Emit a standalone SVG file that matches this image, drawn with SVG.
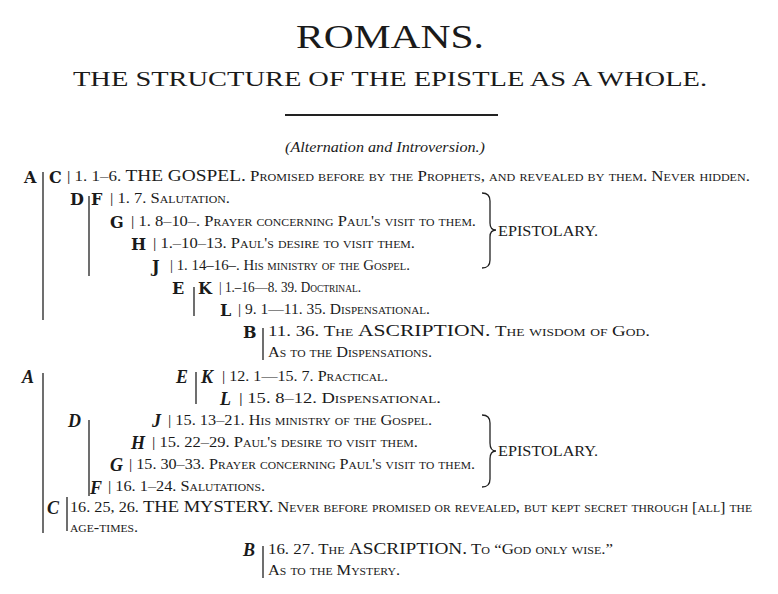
<svg xmlns="http://www.w3.org/2000/svg" width="778" height="594" viewBox="0 0 778 594">
<style>
text{font-family:"Liberation Serif","Times New Roman",serif;fill:#1a1a1a}
.t{font-size:14px;font-variant:small-caps}
.b{font-size:16px;font-weight:bold;font-family:"DejaVu Serif","Liberation Serif",serif}
.i{font-size:18px;font-style:italic;font-weight:bold}
.big{font-size:16px;font-variant:normal}
.ln{stroke:#222;stroke-width:1.3;fill:none}
</style>
<rect width="778" height="594" fill="#fff"/>
<g id="title">
<text x="390" y="48" text-anchor="middle" font-size="34" textLength="188" lengthAdjust="spacingAndGlyphs">ROMANS.</text>
<text x="390" y="86" text-anchor="middle" font-size="20" textLength="634" lengthAdjust="spacingAndGlyphs">THE STRUCTURE OF THE EPISTLE AS A WHOLE.</text>
<line x1="285" y1="115" x2="498" y2="115" stroke="#222" stroke-width="2"/>
<text x="385" y="152" text-anchor="middle" font-size="14" font-style="italic" textLength="200" lengthAdjust="spacingAndGlyphs">(Alternation and Introversion.)</text>
</g>
<g id="connectors">
<path class="ln" d="M43 172V320M43 373V533M89 196V276M89 420V496M194 287V316M196 372V404M263 328V360M263 546V578M67 497V531"/>
<path class="ln" d="M482 193q8 0 8 8v22q0 7 6 7q-6 0 -6 7v23q0 8 -8 8"/>
<path class="ln" d="M482 415q8 0 8 8v20q0 8 6 8q-6 0 -6 8v20q0 8 -8 8"/>
</g>
<g id="A1"><text class="b" x="24" y="183">A</text></g>
<g id="C1"><text class="b" x="49" y="183">C</text><text class="t" x="67" y="181" textLength="683" lengthAdjust="spacingAndGlyphs">| 1. 1–6.  <tspan class="big">THE GOSPEL.</tspan>  Promised before by the Prophets, and revealed by them.  Never hidden.</text></g>
<g id="D1"><text class="b" x="70" y="205">D</text><text class="b" x="91" y="205">F</text><text class="t" x="110" y="203" textLength="120" lengthAdjust="spacingAndGlyphs">| 1. 7.   Salutation.</text></g>
<g id="G1"><text class="b" x="110" y="228">G</text><text class="t" x="131" y="226" textLength="345" lengthAdjust="spacingAndGlyphs">| 1. 8–10–.   Prayer concerning Paul's visit to them.</text></g>
<g id="H1"><text class="b" x="131" y="250">H</text><text class="t" x="153" y="248" textLength="262" lengthAdjust="spacingAndGlyphs">| 1.–10–13.   Paul's desire to visit them.</text></g>
<g id="J1"><text class="b" x="152" y="272">J</text><text class="t" x="170" y="270" textLength="240" lengthAdjust="spacingAndGlyphs">| 1. 14–16–.   His ministry of the Gospel.</text></g>
<g id="E1"><text class="b" x="172" y="294">E</text><text class="b" x="198" y="294">K</text><text class="t" x="219" y="292" textLength="142" lengthAdjust="spacingAndGlyphs">| 1.–16—8. 39.   Doctrinal.</text></g>
<g id="L1"><text class="b" x="220" y="316">L</text><text class="t" x="238" y="314" textLength="192" lengthAdjust="spacingAndGlyphs">| 9. 1—11. 35.   Dispensational.</text></g>
<g id="B1"><text class="b" x="243" y="338">B</text><text class="t" x="268" y="336" textLength="382" lengthAdjust="spacingAndGlyphs">11. 36.   The <tspan class="big">ASCRIPTION.</tspan>   The wisdom of God.</text><text class="t" x="268" y="357" textLength="164" lengthAdjust="spacingAndGlyphs">As to the Dispensations.</text></g>
<g id="A2"><text class="i" x="22" y="383">A</text></g>
<g id="E2"><text class="i" x="176" y="383">E</text><text class="i" x="201" y="383">K</text><text class="t" x="222" y="381" textLength="166" lengthAdjust="spacingAndGlyphs">| 12. 1—15. 7.   Practical.</text></g>
<g id="L2"><text class="i" x="220" y="405">L</text><text class="t" x="239" y="403" textLength="202" lengthAdjust="spacingAndGlyphs">| 15. 8–12.   Dispensational.</text></g>
<g id="D2"><text class="i" x="68" y="427">D</text></g>
<g id="J2"><text class="i" x="152" y="427">J</text><text class="t" x="168" y="425" textLength="264" lengthAdjust="spacingAndGlyphs">| 15. 13–21. His ministry of the Gospel.</text></g>
<g id="H2"><text class="i" x="131" y="449">H</text><text class="t" x="152" y="447" textLength="266" lengthAdjust="spacingAndGlyphs">| 15. 22–29.   Paul's desire to visit them.</text></g>
<g id="G2"><text class="i" x="110" y="471">G</text><text class="t" x="129" y="469" textLength="346" lengthAdjust="spacingAndGlyphs">| 15. 30–33.   Prayer concerning Paul's visit to them.</text></g>
<g id="F2"><text class="i" x="90" y="494">F</text><text class="t" x="108" y="491" textLength="157" lengthAdjust="spacingAndGlyphs">| 16. 1–24.   Salutations.</text></g>
<g id="C2"><text class="i" x="47" y="514">C</text><text class="t" x="70" y="512" textLength="682" lengthAdjust="spacingAndGlyphs">16. 25, 26.  <tspan class="big">THE MYSTERY.</tspan>  Never before promised or revealed, but kept secret through [all] the</text><text class="t" x="70" y="532" font-size="12" textLength="68" lengthAdjust="spacingAndGlyphs">age-times.</text></g>
<g id="B2"><text class="i" x="243" y="556">B</text><text class="t" x="268" y="554" textLength="345" lengthAdjust="spacingAndGlyphs">16. 27.   The <tspan class="big">ASCRIPTION.</tspan>   To “God only wise.”</text><text class="t" x="268" y="575" textLength="132" lengthAdjust="spacingAndGlyphs">As to the Mystery.</text></g>
<g id="ep"><text x="498" y="236" font-size="14" textLength="100" lengthAdjust="spacingAndGlyphs">EPISTOLARY.</text><text x="498" y="456" font-size="14" textLength="100" lengthAdjust="spacingAndGlyphs">EPISTOLARY.</text></g>
</svg>
